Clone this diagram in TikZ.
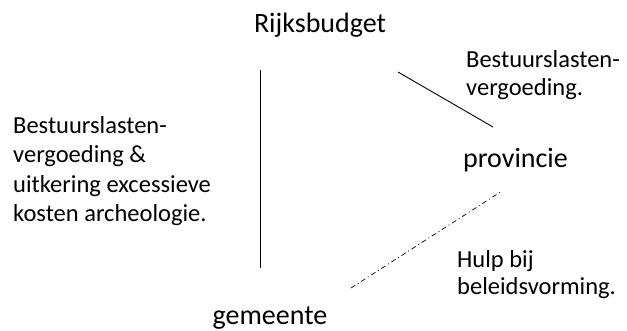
\documentclass[tikz,border=0pt]{standalone}
\usepackage{fontspec}
\setmainfont{Carlito}
\begin{document}
\begin{tikzpicture}[x=1pt,y=-1pt,
  lbl/.style={inner sep=0pt,anchor=base,font=\fontsize{28}{34}\selectfont},
  note/.style={inner sep=0pt,align=left,anchor=base west,font=\fontsize{24.5}{29.5}\selectfont},
  conn/.style={line width=0.9pt}]
\useasboundingbox (0,0) rectangle (627,331);
\node[lbl] (rijk) at (320,33) {Rijksbudget};
\node[lbl,anchor=base west] (prov) at (463,168) {provincie};
\node[lbl] (gem) at (270,325) {gemeente};
\node[note] (n1) at (13,222) {Bestuurslasten-\\vergoeding \&\\uitkering excessieve\\kosten archeologie.};
\node[note,font=\fontsize{24.5}{28}\selectfont] (n2) at (466,96) {Bestuurslasten-\\vergoeding.};
\node[note,font=\fontsize{24.5}{28}\selectfont] (n3) at (457,295) {Hulp bij\\beleidsvorming.};
\coordinate (a1) at (260,70);
\coordinate (a2) at (260,268);
\coordinate (b1) at (398,72);
\coordinate (b2) at (493,127);
\coordinate (c1) at (351,288);
\coordinate (c2) at (502,191);
\draw[conn] (a1) -- (a2);
\draw[conn] (b1) -- (b2);
\draw[line width=0.7pt,dash pattern=on 5pt off 3pt on 1pt off 3pt] (c1) -- (c2);
\end{tikzpicture}
\end{document}
